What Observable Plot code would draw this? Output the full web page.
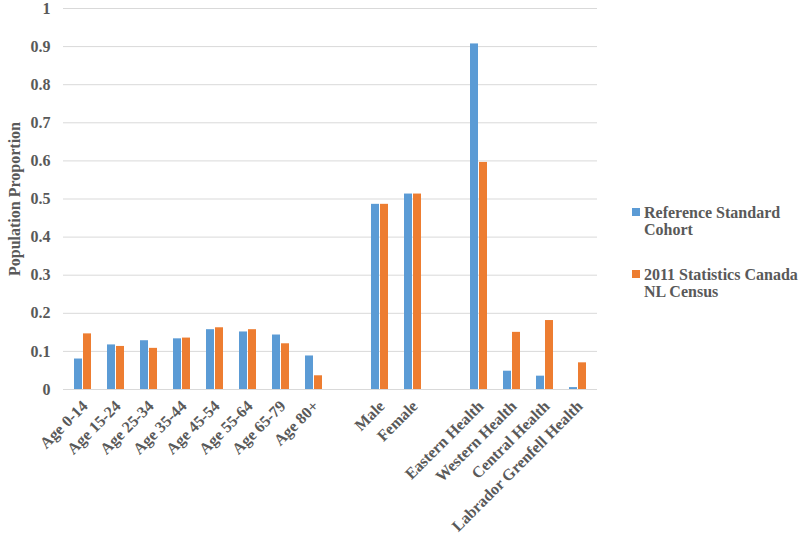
<!DOCTYPE html>
<html>
<head>
<meta charset="utf-8">
<script src="https://cdn.jsdelivr.net/npm/d3@7"></script>
<script src="https://cdn.jsdelivr.net/npm/@observablehq/plot@0.6"></script>
<style>
  html, body { margin: 0; padding: 0; background: #fff; }
  #wrap { position: relative; width: 800px; height: 536px; }
  #legend { position: absolute; left: 632px; top: 204px; font-family: "Liberation Serif", serif; font-weight: bold; font-size: 16px; color: #595959; line-height: 17px; }
  .item { display: flex; align-items: flex-start; margin-bottom: 28px; }
  .sw { width: 8px; height: 8px; margin-top: 4px; margin-right: 4px; flex: none; }
</style>
</head>
<body>
<div id="wrap"><div id="chart"></div><div id="legend"></div></div>
<script>
const ageGroups = ["Age 0-14", "Age 15-24", "Age 25-34", "Age 35-44", "Age 45-54", "Age 55-64", "Age 65-79", "Age 80+"];
const sexes = ["Male", "Female"];
const regions = ["Eastern Health", "Western Health", "Central Health", "Labrador Grenfell Health"];
const categories = [...ageGroups, ...sexes, ...regions];
const seriesNames = ["Reference Standard Cohort", "2011 Statistics Canada NL Census"];
const seriesColors = ["#5B9BD5", "#ED7D31"];
const cohortValues = [0.080, 0.117, 0.128, 0.133, 0.157, 0.151, 0.143, 0.088, 0.486, 0.513, 0.907, 0.048, 0.035, 0.005];
const censusValues = [0.146, 0.113, 0.108, 0.135, 0.162, 0.157, 0.120, 0.036, 0.486, 0.513, 0.596, 0.150, 0.181, 0.070];
const yTicks = [0, 0.1, 0.2, 0.3, 0.4, 0.5, 0.6, 0.7, 0.8, 0.9, 1];

const spacers = ["__gap1", "__gap2"];
const xDomain = [...ageGroups, spacers[0], ...sexes, spacers[1], ...regions];

const cohortData = categories.map((c, i) => ({category: c, series: seriesNames[0], value: cohortValues[i]}));
const censusData = categories.map((c, i) => ({category: c, series: seriesNames[1], value: censusValues[i]}));

const chart = Plot.plot({
  width: 610,
  height: 536,
  marginLeft: 63,
  marginRight: 13,
  marginTop: 8,
  marginBottom: 147,
  style: {fontFamily: "Liberation Serif, serif", fontWeight: "bold", fontSize: "16px", color: "#595959", background: "#fff"},
  x: {domain: xDomain, paddingInner: 0.49, paddingOuter: 0.245, label: null},
  y: {domain: [0, 1], ticks: yTicks, label: null},
  color: {domain: seriesNames, range: seriesColors},
  marks: [
    Plot.ruleY(yTicks, {stroke: "#D9D9D9", strokeWidth: 1}),
    Plot.barY(cohortData, {x: "category", y: "value", fill: "series", insetRight: 9}),
    Plot.barY(censusData, {x: "category", y: "value", fill: "series", insetLeft: 9}),
    Plot.axisY({ticks: yTicks, tickSize: 0, tickPadding: 13, tickFormat: d => String(d), fontSize: 16, label: null}),
    Plot.axisX({tickSize: 0, tickRotate: -45, tickPadding: 14, dx: 2, fontSize: 16, label: null, tickFormat: d => d.startsWith("__") ? "" : d}),
    Plot.text(["Population Proportion"], {frameAnchor: "left", textAnchor: "middle", rotate: -90, dx: -49, fontSize: 16, fontWeight: "bold", fill: "#595959"})
  ]
});
document.getElementById("chart").appendChild(chart);

const legend = document.getElementById("legend");
const legendLines = [["Reference Standard", "Cohort"], ["2011 Statistics Canada", "NL Census"]];
seriesNames.forEach((s, i) => {
  const item = document.createElement("div");
  item.className = "item";
  const sw = document.createElement("div");
  sw.className = "sw";
  sw.style.background = seriesColors[i];
  const t = document.createElement("div");
  t.innerHTML = legendLines[i].join("<br>");
  item.appendChild(sw);
  item.appendChild(t);
  legend.appendChild(item);
});
</script>
</body>
</html>
